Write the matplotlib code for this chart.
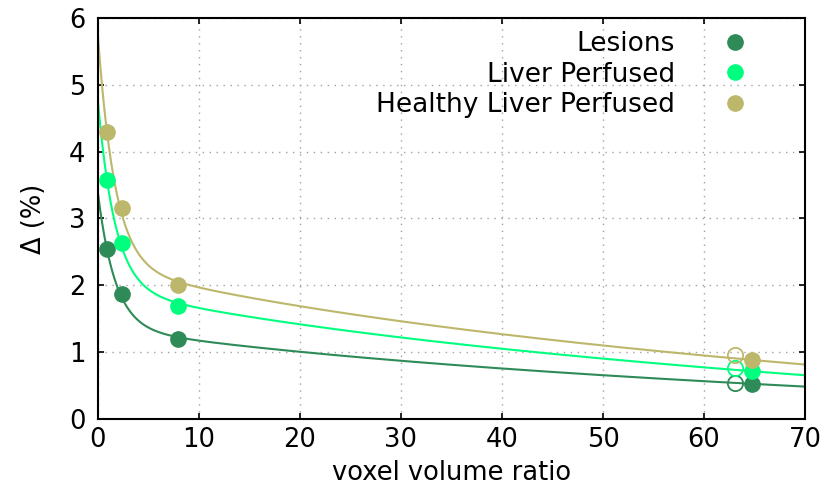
import numpy as np
import matplotlib.pyplot as plt

# measured points (voxel volume ratio, delta %)
ratio = [0.86, 2.35, 7.95, 64.75]
lesions = [2.54, 1.87, 1.19, 0.53]
liver = [3.58, 2.64, 1.69, 0.72]
healthy = [4.30, 3.15, 2.00, 0.89]

# second set (hollow markers)
ratio_alt = [63.1]
lesions_alt = [0.54]
liver_alt = [0.77]
healthy_alt = [0.96]

names = ['Lesions', 'Liver Perfused', 'Healthy Liver Perfused']
colors = ['#2e8b57', '#00ff7f', '#bdb76b']

# fit shape: a*exp(-x/tau) + c + k*ln(x + d)
tau, d = 1.7, 35.0


def basis(x):
    x = np.asarray(x, dtype=float)
    return np.column_stack([np.exp(-x/tau), np.ones_like(x), np.log(x + d)])


def fit(x, y):
    p, *_ = np.linalg.lstsq(basis(x), np.asarray(y), rcond=None)
    return lambda t: basis(t) @ p


plt.rcParams['font.family'] = 'DejaVu Sans'
plt.rcParams['font.size'] = 18.5

fig = plt.figure(figsize=(8.26, 4.92), dpi=100)
ax = fig.add_axes([0.1186, 0.1484, 0.856, 0.815])

xs = np.linspace(0, 70, 1000)
for ys, ya, name, c in zip([lesions, liver, healthy],
                           [lesions_alt, liver_alt, healthy_alt], names, colors):
    f = fit(ratio, ys)
    ax.plot(xs, f(xs), color=c, lw=1.5, zorder=2)
    ax.plot(ratio, ys, 'o', color=c, ms=11, label=name, zorder=3, clip_on=False)
    ax.plot(ratio_alt, ya, 'o', mfc='none', mec=c, mew=1.3, ms=11, zorder=3)

ax.set_xlim(0, 70)
ax.set_ylim(0, 6)
ax.set_xticks(range(0, 71, 10))
ax.set_yticks(range(0, 7))
ax.tick_params(direction='in', top=True, right=True, length=4.5, width=1.2)
ax.tick_params(axis='x', pad=6)
ax.tick_params(axis='y', pad=9)
for s in ax.spines.values():
    s.set_linewidth(1.5)
ax.grid(True, color='#a0a0a0', linestyle=(0, (1, 4)), lw=1)
ax.set_axisbelow(True)

ax.set_xlabel('voxel volume ratio', labelpad=5)
ax.set_ylabel('Δ (%)', labelpad=16)

ax.legend(loc='upper right', bbox_to_anchor=(0.919, 0.968), frameon=False,
          markerfirst=False, handlelength=1.0, handletextpad=1.75,
          labelspacing=0.18, borderpad=0.0, borderaxespad=0.0, fontsize=19)

fig.savefig('out.png', dpi=100)
